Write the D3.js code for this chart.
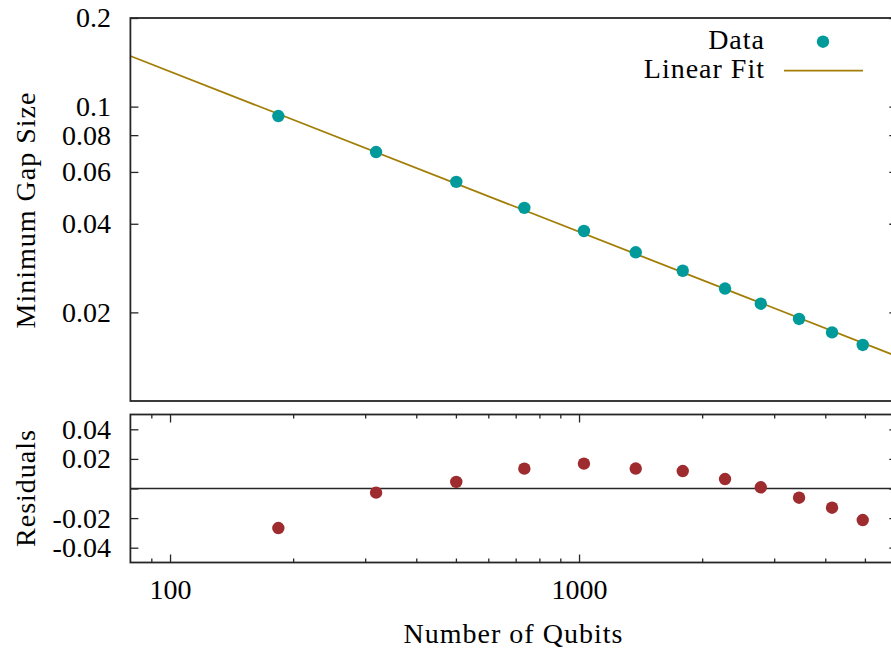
<!DOCTYPE html>
<html>
<head>
<meta charset="utf-8">
<script src="https://cdn.jsdelivr.net/npm/d3@7"></script>
</head>
<body style="margin:0">
<script>
// Minimum gap vs number of qubits
const qubits    = [184, 319, 501, 735, 1028, 1376, 1793, 2275, 2782, 3451, 4155, 4939];
const gapSize   = [0.0929, 0.0701, 0.0555, 0.0453, 0.0378, 0.0320, 0.0277, 0.0241, 0.0214, 0.0190, 0.0171, 0.0155];
const residuals = [-0.0267, -0.0028, 0.0044, 0.0134, 0.0168, 0.0135, 0.0118, 0.0064, 0.0008, -0.0062, -0.0130, -0.0213];

// power-law fit  gap = prefactor * N^exponent  (a straight line on log-log)
const fitPrefactor = 1.614;
const fitExponent = -0.5443;

const gapTicks = [0.02, 0.04, 0.06, 0.08, 0.1, 0.2];
const gapTickLabels = ["0.02", "0.04", "0.06", "0.08", "0.1", "0.2"];
const residTicks = [-0.04, -0.02, 0, 0.02, 0.04];
const residTickLabels = ["-0.04", "-0.02", "", "0.02", "0.04"];
const xMajorTicks = [100, 1000];
const xMinorTicks = [90, 200, 300, 400, 500, 600, 700, 800, 900, 2000, 3000, 4000, 5000];
const legendLabels = ["Data", "Linear Fit"];

const W = 891, H = 652;
const left = 130.4, right = 897.3;
const top1 = 18, bot1 = 401;
const top2 = 414.5, bot2 = 562.5;

const dataColor = "#009a9a";
const fitColor = "#a27e06";
const residColor = "#9e2b2e";
const axisColor = "#262626";
const fontSize = 28;

const svg = d3.select("body").append("svg")
  .attr("width", W).attr("height", H);

const x = d3.scaleLog().domain([80, 6000]).range([left, right]);
const y = d3.scaleLog().domain([0.01, 0.2]).range([bot1, top1]);
const yr = d3.scaleLinear().domain([-0.05, 0.05]).range([bot2, top2]);

function styleAxis(g) {
  g.select(".domain").remove();
  g.selectAll(".tick line").attr("stroke", axisColor).attr("stroke-width", 1.3);
}

// ---- top panel ----
svg.append("g")
  .attr("transform", `translate(${left},0)`)
  .call(d3.axisLeft(y).tickValues(gapTicks).tickSize(-8).tickPadding(19.5)
    .tickFormat((d, i) => gapTickLabels[i]))
  .call(styleAxis);

svg.append("g")
  .attr("transform", `translate(${right},0)`)
  .call(d3.axisRight(y).tickValues(gapTicks).tickSize(-8).tickFormat(""))
  .call(styleAxis);

svg.append("clipPath").attr("id", "clipTop")
  .append("rect").attr("x", left).attr("y", top1)
  .attr("width", right - left).attr("height", bot1 - top1);

const fitLine = d3.line()
  .x(d => x(d))
  .y(d => y(fitPrefactor * Math.pow(d, fitExponent)));

svg.append("path")
  .datum(x.domain())
  .attr("d", fitLine)
  .attr("fill", "none")
  .attr("stroke", fitColor)
  .attr("stroke-width", 1.8)
  .attr("clip-path", "url(#clipTop)");

svg.append("g").selectAll("circle")
  .data(qubits)
  .join("circle")
    .attr("cx", d => x(d))
    .attr("cy", (d, i) => y(gapSize[i]))
    .attr("r", 6.2)
    .attr("fill", dataColor);

svg.append("rect")
  .attr("x", left).attr("y", top1)
  .attr("width", right - left).attr("height", bot1 - top1)
  .attr("fill", "none").attr("stroke", axisColor).attr("stroke-width", 1.8);

// legend
const legend = svg.append("g");
legend.append("text")
  .attr("class", "word")
  .attr("x", 765).attr("y", 49)
  .attr("text-anchor", "end")
  .text(legendLabels[0]);
legend.append("circle")
  .attr("cx", 823).attr("cy", 41.7).attr("r", 6.2).attr("fill", dataColor);
legend.append("text")
  .attr("class", "word")
  .attr("x", 765).attr("y", 78.3)
  .attr("text-anchor", "end")
  .text(legendLabels[1]);
legend.append("line")
  .attr("x1", 784).attr("x2", 863).attr("y1", 70.7).attr("y2", 70.7)
  .attr("stroke", fitColor).attr("stroke-width", 1.8);

// ---- bottom panel (residuals) ----
svg.append("g")
  .attr("transform", `translate(${left},0)`)
  .call(d3.axisLeft(yr).tickValues(residTicks).tickSize(-8).tickPadding(19.5)
    .tickFormat((d, i) => residTickLabels[i]))
  .call(styleAxis);

svg.append("g")
  .attr("transform", `translate(${right},0)`)
  .call(d3.axisRight(yr).tickValues(residTicks).tickSize(-8).tickFormat(""))
  .call(styleAxis);

svg.append("g")
  .attr("transform", `translate(0,${bot2})`)
  .call(d3.axisBottom(x).tickValues(xMajorTicks).tickSize(-8).tickPadding(17)
    .tickFormat(d3.format("d")))
  .call(styleAxis);

svg.append("g")
  .attr("transform", `translate(0,${bot2})`)
  .call(d3.axisBottom(x).tickValues(xMinorTicks).tickSize(-4).tickFormat(""))
  .call(styleAxis);

svg.append("g")
  .attr("transform", `translate(0,${top2})`)
  .call(d3.axisTop(x).tickValues(xMajorTicks).tickSize(-8).tickFormat(""))
  .call(styleAxis);

svg.append("g")
  .attr("transform", `translate(0,${top2})`)
  .call(d3.axisTop(x).tickValues(xMinorTicks).tickSize(-4).tickFormat(""))
  .call(styleAxis);

svg.append("line")
  .attr("x1", left).attr("x2", right)
  .attr("y1", yr(0)).attr("y2", yr(0))
  .attr("stroke", axisColor).attr("stroke-width", 1.6);

svg.append("g").selectAll("circle")
  .data(qubits)
  .join("circle")
    .attr("cx", d => x(d))
    .attr("cy", (d, i) => yr(residuals[i]))
    .attr("r", 6.2)
    .attr("fill", residColor);

svg.append("rect")
  .attr("x", left).attr("y", top2)
  .attr("width", right - left).attr("height", bot2 - top2)
  .attr("fill", "none").attr("stroke", axisColor).attr("stroke-width", 1.8);

// axis titles
const titles = svg.append("g").attr("text-anchor", "middle");

titles.append("text")
  .attr("class", "word")
  .attr("x", 513.5).attr("y", 643)
  .text("Number of Qubits");

titles.append("text")
  .attr("class", "word")
  .attr("transform", "translate(35,210) rotate(-90)")
  .text("Minimum Gap Size");

titles.append("text")
  .attr("class", "word")
  .attr("transform", "translate(35,488) rotate(-90)")
  .text("Residuals");

// font on every text element, inline so nothing else wins
svg.selectAll("text")
  .attr("font-family", "\"Liberation Serif\"")
  .style("font-family", "\"Liberation Serif\", \"Times New Roman\", serif", "important")
  .style("font-size", fontSize + "px", "important")
  .attr("fill", "#000");
svg.selectAll("text.word").style("letter-spacing", "1px");
</script>
</body>
</html>
